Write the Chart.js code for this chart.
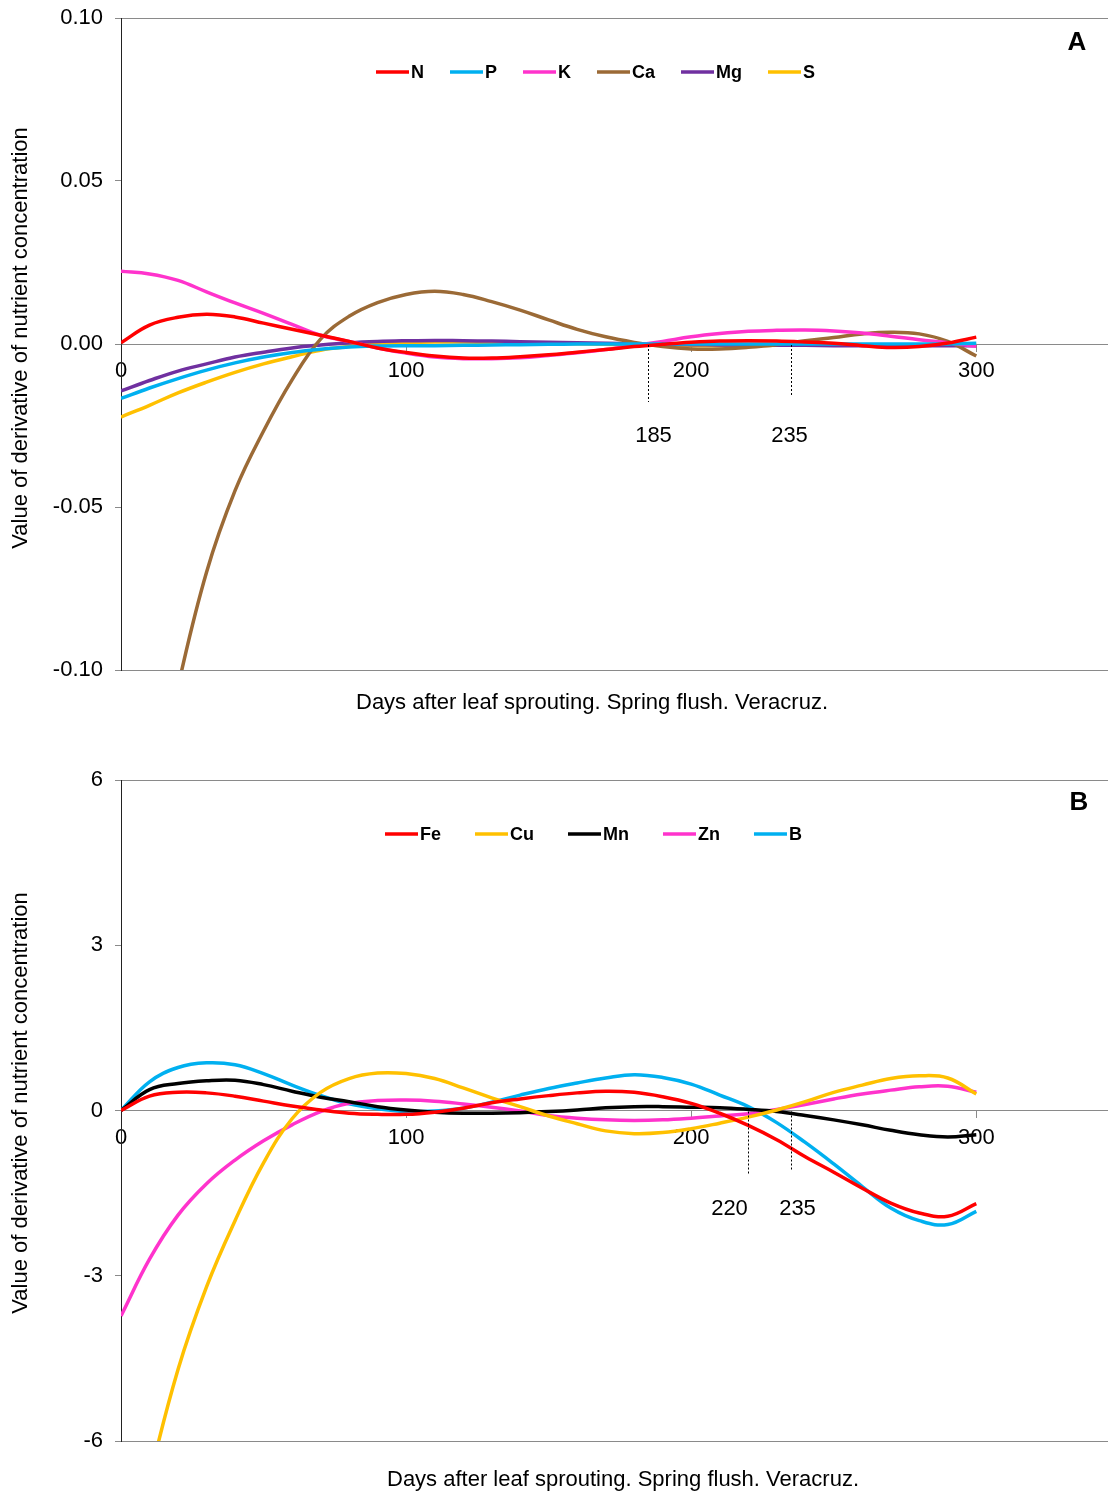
<!DOCTYPE html>
<html>
<head>
<meta charset="utf-8">
<script src="https://cdn.jsdelivr.net/npm/chart.js@4/dist/chart.umd.min.js"></script>
<style>
  html, body { margin: 0; padding: 0; background: #fff; overflow: hidden; }
  .panel { position: absolute; left: 0; }
</style>
</head>
<body>
<div class="panel" style="top:0"><canvas id="chartA" width="1108" height="740"></canvas></div>
<div class="panel" style="top:740px"><canvas id="chartB" width="1108" height="756"></canvas></div>
<script>
// Days after leaf sprouting at which each derivative curve is sampled
const days = [0,10,20,30,40,50,60,70,80,90,100,110,120,130,140,150,160,170,180,190,200,210,220,230,240,250,260,270,280,290,300];

// Panel A: macronutrients
const macroNames = ['N', 'P', 'K', 'Ca', 'Mg', 'S'];
const nValues  = [0.0004,0.0058,0.0082,0.0091,0.0083,0.0064,0.0045,0.0027,0.0008,-0.0012,-0.0026,-0.0037,-0.0043,-0.0043,-0.0039,-0.0033,-0.0025,-0.0017,-0.0008,-0.0001,0.0005,0.0009,0.0010,0.0009,0.0006,0.0002,-0.0005,-0.0011,-0.0008,0.0003,0.0021];
const pValues  = [-0.0167,-0.0135,-0.0106,-0.0080,-0.0058,-0.0040,-0.0026,-0.0016,-0.0009,-0.0006,-0.0005,-0.0005,-0.0004,-0.0003,-0.0002,-0.0001,0,0,0,0,0,0,0,0,0,0,0,0,0,0,0.0002];
const kValues  = [0.0223,0.0215,0.0195,0.0160,0.0126,0.0094,0.0060,0.0027,0.0008,-0.0012,-0.0028,-0.0040,-0.0045,-0.0045,-0.0042,-0.0035,-0.0027,-0.0017,-0.0005,0.0008,0.0022,0.0032,0.0039,0.0042,0.0043,0.0040,0.0034,0.0024,0.0013,0.0004,-0.0007];
const caValues = [-0.19,-0.145,-0.105,-0.070,-0.045,-0.0267,-0.011,0.0015,0.0085,0.0127,0.0152,0.0162,0.0152,0.0130,0.0104,0.0074,0.0045,0.0022,0.0005,-0.0008,-0.0015,-0.0015,-0.0010,-0.0002,0.0010,0.0020,0.0031,0.0036,0.0031,0.0008,-0.0037];
const mgValues = [-0.0144,-0.0112,-0.0083,-0.0061,-0.0040,-0.0025,-0.0012,-0.0003,0.0004,0.0008,0.0010,0.0011,0.0010,0.0009,0.0007,0.0005,0.0004,0.0002,0.0001,-0.0001,-0.0002,-0.0003,-0.0003,-0.0004,-0.0004,-0.0005,-0.0005,-0.0005,-0.0005,-0.0005,-0.0005];
const sValues  = [-0.0224,-0.0188,-0.0150,-0.0117,-0.0087,-0.0061,-0.0039,-0.0019,-0.0008,0.0000,0.0004,0.0006,0.0006,0.0005,0.0004,0.0002,0.0001,-0.0001,-0.0003,-0.0004,-0.0005,-0.0005,-0.0005,-0.0004,-0.0003,-0.0003,-0.0003,-0.0003,-0.0003,-0.0003,-0.0003];
const macroTicksY = [-0.10, -0.05, 0, 0.05, 0.10];
const macroMarkers = [185, 235];

// Panel B: micronutrients
const microNames = ['Fe', 'Cu', 'Mn', 'Zn', 'B'];
const feValues = [0,0.26,0.33,0.32,0.26,0.17,0.08,0.01,-0.05,-0.07,-0.07,-0.03,0.04,0.14,0.21,0.27,0.32,0.35,0.33,0.25,0.13,-0.05,-0.27,-0.53,-0.84,-1.12,-1.41,-1.68,-1.86,-1.92,-1.69];
const cuValues = [-9.2,-6.7,-4.70,-3.20,-2.00,-0.95,-0.15,0.33,0.58,0.68,0.67,0.58,0.41,0.23,0.07,-0.10,-0.24,-0.37,-0.42,-0.40,-0.33,-0.23,-0.12,0.01,0.16,0.33,0.46,0.58,0.63,0.59,0.30];
const mnValues = [0,0.38,0.49,0.54,0.55,0.47,0.35,0.24,0.16,0.07,0.01,-0.03,-0.05,-0.05,-0.04,-0.02,0.01,0.05,0.07,0.07,0.06,0.05,0.02,-0.02,-0.09,-0.17,-0.26,-0.36,-0.44,-0.48,-0.44];
const znValues = [-3.73,-2.70,-1.90,-1.33,-0.90,-0.55,-0.26,-0.02,0.13,0.18,0.19,0.17,0.12,0.06,-0.01,-0.09,-0.14,-0.17,-0.18,-0.17,-0.14,-0.10,-0.06,0.02,0.11,0.21,0.30,0.37,0.43,0.44,0.33];
const bValues  = [0,0.52,0.78,0.865,0.83,0.67,0.46,0.27,0.12,0.03,-0.02,-0.01,0.04,0.15,0.28,0.40,0.50,0.59,0.65,0.60,0.48,0.28,0.07,-0.22,-0.58,-0.97,-1.38,-1.77,-2.00,-2.07,-1.83];
const microTicksY = [-6, -3, 0, 3, 6];
const microMarkers = [220, 235];

const ticksX = [0, 100, 200, 300];
const xTitle = 'Days after leaf sprouting. Spring flush. Veracruz.';
const yTitle = 'Value of derivative of nutrient concentration';

const FONT = '"Liberation Sans", Arial, Helvetica, sans-serif';
Chart.defaults.font.family = FONT;
Chart.defaults.color = '#000';

// Draws the in-plot legend, panel letter, reference markers and axis titles
const decorPlugin = {
  id: 'decor',
  afterDraw(chart, args, o) {
    const ctx = chart.ctx;
    const xs = chart.scales.x, ys = chart.scales.y;
    ctx.save();

    // legend row inside the plot
    ctx.font = 'bold 18px ' + FONT;
    ctx.textBaseline = 'middle';
    ctx.textAlign = 'left';
    let lx = o.legendX;
    chart.data.datasets.forEach(ds => {
      ctx.strokeStyle = ds.borderColor;
      ctx.lineWidth = 3.5;
      ctx.beginPath();
      ctx.moveTo(lx, o.legendY);
      ctx.lineTo(lx + 33, o.legendY);
      ctx.stroke();
      ctx.fillStyle = '#000';
      ctx.fillText(ds.label, lx + 35, o.legendY + 1);
      lx += 35 + ctx.measureText(ds.label).width + o.legendGap;
    });

    // panel letter
    ctx.font = 'bold 26px ' + FONT;
    ctx.textAlign = 'center';
    ctx.fillText(o.letter, o.letterX, o.letterY);

    // dotted reference markers on the zero line
    const y0 = ys.getPixelForValue(0);
    ctx.font = '22px ' + FONT;
    o.markers.forEach((day, i) => {
      const st = o.markerStyle[i];
      const px = Math.round(xs.getPixelForValue(day)) + 0.5;
      ctx.setLineDash([2, 2]);
      ctx.strokeStyle = '#000';
      ctx.lineWidth = 1;
      ctx.beginPath();
      ctx.moveTo(px, y0 + 1);
      ctx.lineTo(px, y0 + st.len);
      ctx.stroke();
      ctx.setLineDash([]);
      ctx.fillStyle = '#000';
      ctx.fillText(String(day), px + st.dx, y0 + o.markerLabelDy);
    });

    // axis titles
    ctx.font = '22px ' + FONT;
    ctx.textAlign = 'center';
    ctx.textBaseline = 'middle';
    ctx.fillText(xTitle, o.xTitleX, o.xTitleY);
    ctx.translate(o.yTitleX, o.yTitleY);
    ctx.rotate(-Math.PI / 2);
    ctx.fillText(yTitle, 0, 0);
    ctx.restore();
  }
};

function buildChart(id, names, seriesValues, colors, yTicks, yLabel, pad, decor) {
  const datasets = names.map((name, k) => ({
    label: name,
    data: days.map((d, i) => ({ x: d, y: seriesValues[k][i] })),
    borderColor: colors[k],
    backgroundColor: colors[k],
    borderWidth: 3.5,
    pointRadius: 0,
    fill: false,
    tension: 0.4
  }));
  const yMin = yTicks[0], yMax = yTicks[yTicks.length - 1];
  return new Chart(document.getElementById(id), {
    type: 'line',
    data: { datasets },
    options: {
      responsive: false,
      animation: false,
      devicePixelRatio: 1,
      layout: { padding: pad },
      plugins: { legend: { display: false }, tooltip: { enabled: false }, decor },
      scales: {
        x: {
          type: 'linear', min: 0, max: 346.2,
          position: { y: 0 },
          afterBuildTicks: s => { s.ticks = ticksX.map(v => ({ value: v })); },
          ticks: { font: { size: 22 }, color: '#000', padding: 7, maxRotation: 0, autoSkip: false, callback: v => String(v) },
          grid: { drawOnChartArea: false, drawTicks: true, tickLength: 7, color: '#8a8a8a' },
          border: { display: true, color: '#8a8a8a', width: 1 }
        },
        y: {
          type: 'linear', min: yMin, max: yMax, position: 'left',
          afterBuildTicks: s => { s.ticks = yTicks.map(v => ({ value: v })); },
          afterFit: s => { s.width = 121; s.paddingTop = 0; s.paddingBottom = 0; },
          ticks: { font: { size: 22 }, color: '#000', padding: 12, callback: yLabel },
          grid: {
            drawOnChartArea: true, drawTicks: true, tickLength: 6,
            color: c => (c.tick && (c.tick.value === yMin || c.tick.value === yMax)) ? '#8a8a8a' : 'rgba(0,0,0,0)',
            tickColor: '#8a8a8a'
          },
          border: { display: true, color: '#222', width: 1 }
        }
      }
    },
    plugins: [decorPlugin]
  });
}

buildChart('chartA', macroNames,
  [nValues, pValues, kValues, caValues, mgValues, sValues],
  ['#FF0000', '#00B0F0', '#FF33CC', '#9B6A36', '#7030A0', '#FFC000'],
  macroTicksY, v => v.toFixed(2),
  { top: 18, bottom: 70, left: 0, right: 0 },
  {
    legendX: 376, legendY: 72, legendGap: 26,
    letter: 'A', letterX: 1077, letterY: 43,
    markers: macroMarkers,
    markerStyle: [{ len: 58, dx: 5 }, { len: 52, dx: -2 }],
    markerLabelDy: 92,
    xTitleX: 592, xTitleY: 703,
    yTitleX: 21, yTitleY: 338
  });

buildChart('chartB', microNames,
  [feValues, cuValues, mnValues, znValues, bValues],
  ['#FF0000', '#FFC000', '#000000', '#FF33CC', '#00B0F0'],
  microTicksY, v => String(v),
  { top: 40, bottom: 55, left: 0, right: 0 },
  {
    legendX: 385, legendY: 94, legendGap: 34,
    letter: 'B', letterX: 1079, letterY: 63,
    markers: microMarkers,
    markerStyle: [{ len: 64, dx: -19 }, { len: 60, dx: 6 }],
    markerLabelDy: 98,
    xTitleX: 623, xTitleY: 740,
    yTitleX: 21, yTitleY: 363
  });
</script>
</body>
</html>
